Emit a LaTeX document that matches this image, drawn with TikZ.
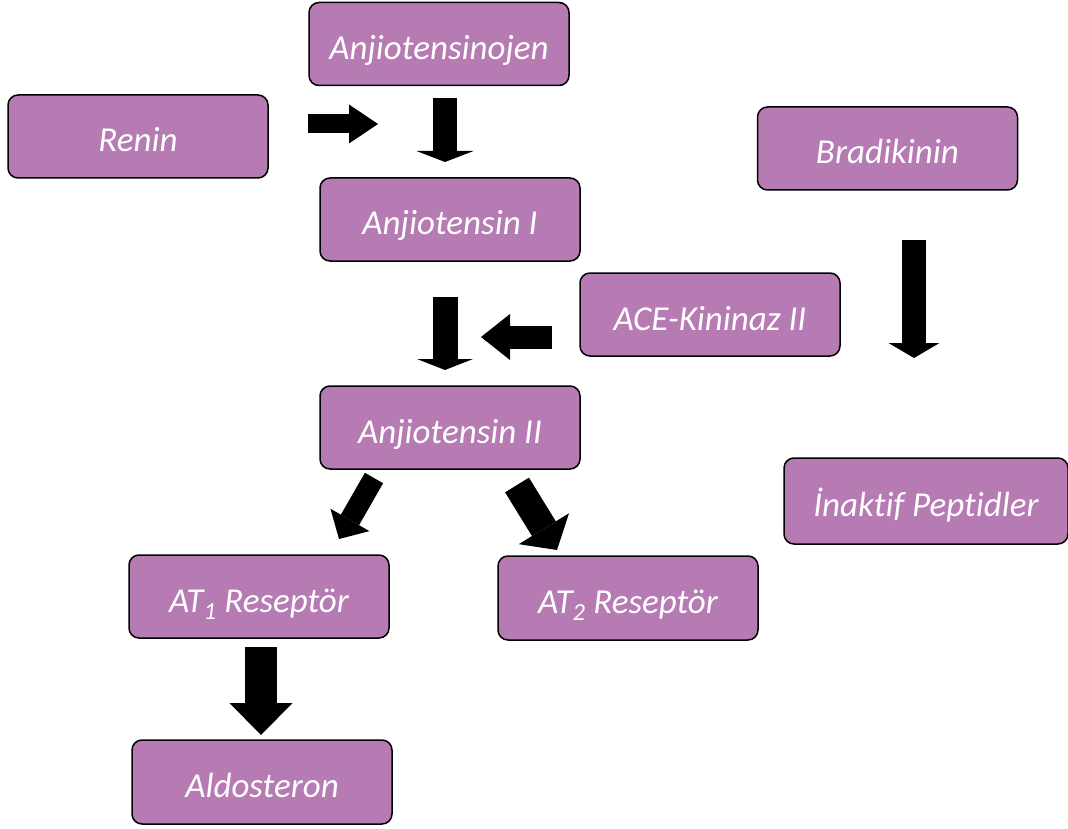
\documentclass[tikz,border=0pt]{standalone}
\usepackage{fontspec}
\setmainfont{Carlito}[Ligatures=NoCommon]
\usetikzlibrary{arrows.meta}
\definecolor{boxpurple}{RGB}{182,123,178}
\tikzset{
  box/.style={draw=black,line width=1.5pt,fill=boxpurple,rounded corners=10pt,
    minimum width=260pt,minimum height=83pt,inner sep=0pt,text=white,
    text height=33pt,text depth=2pt,
    font=\fontsize{35}{42}\selectfont\itshape},
  fat/.style n args={3}{draw=black,line width=#1,
    -{Triangle[width=#2,length=#3,line width=0pt]}}
}

\begin{document}
\begin{tikzpicture}[x=1pt,y=-1pt]
    \useasboundingbox (0,0) rectangle (1068,829);
    \node[box] (ajen) at (439,44) {Anjiotensinojen};
    \node[box] (renin) at (138,136.5) {Renin};
    \node[box] (brad) at (887.5,148.5) {Bradikinin};
    \node[box] (ang1) at (450,219.5) {Anjiotensin I};
    \node[box] (ace) at (710,314.5) {ACE-Kininaz II};
    \node[box] (ang2) at (450,427.5) {Anjiotensin II};
    \node[box,minimum width=284pt,minimum height=86pt] (inak) at (926,501) {İnaktif Peptidler};
    \node[box] (at1) at (259,596.5) {AT\textsubscript{1} Reseptör};
    \node[box,minimum height=84pt] (at2) at (628,598) {AT\textsubscript{2} Reseptör};
    \node[box,minimum height=84pt] (aldo) at (262,782) {Aldosteron};
    \coordinate (rs) at (308,124);
    \coordinate (re) at (378,124);
    \coordinate (js) at (445,98);
    \coordinate (je) at (445,162);
    \coordinate (is) at (445,297);
    \coordinate (ie) at (445,370);
    \coordinate (cs) at (552,337);
    \coordinate (ce) at (481,337);
    \coordinate (bs) at (914,240);
    \coordinate (be) at (914,358);
    \coordinate (ls) at (374,478);
    \coordinate (le) at (339,539);
    \coordinate (ts) at (517,485);
    \coordinate (te) at (557,550);
    \coordinate (ds) at (261,647);
    \coordinate (de) at (261,735);
    \draw[fat={19pt}{39pt}{29pt}] (rs) -- (re);
    \draw[fat={24pt}{57pt}{11pt}] (js) -- (je);
    \draw[fat={25pt}{56pt}{11pt}] (is) -- (ie);
    \draw[fat={23pt}{46pt}{29pt}] (cs) -- (ce);
    \draw[fat={24pt}{51pt}{15pt}] (bs) -- (be);
    \draw[fat={21pt}{45pt}{22pt}] (ls) -- (le);
    \draw[fat={28pt}{59pt}{25pt}] (ts) -- (te);
    \draw[fat={32pt}{63pt}{32pt}] (ds) -- (de);
\end{tikzpicture}
\end{document}
